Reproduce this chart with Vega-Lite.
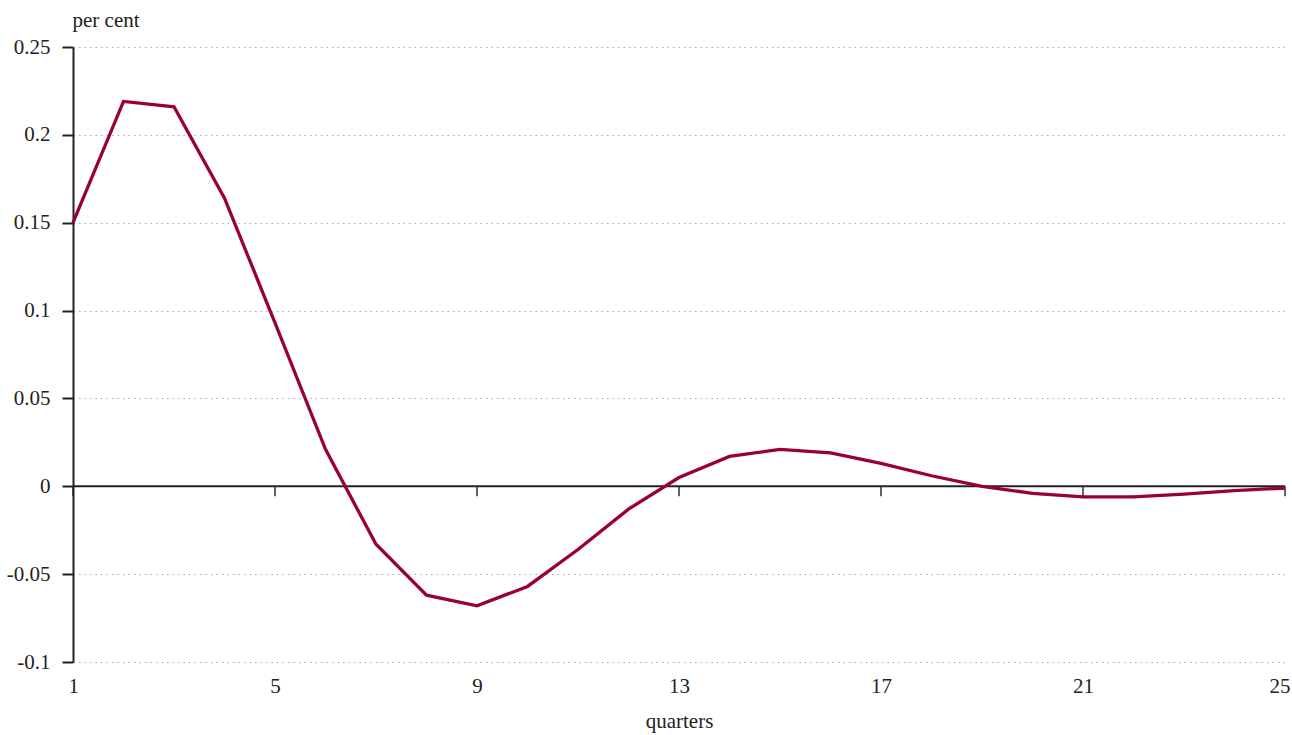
{
  "$schema": "https://vega.github.io/schema/vega-lite/v6.json",
  "width": 1212,
  "height": 615,
  "autosize": {"type": "none"},
  "padding": {"left": 73, "top": 47, "right": 7, "bottom": 73},
  "background": "white",
  "config": {
    "view": {"stroke": null},
    "font": "Liberation Serif",
    "axis": {"labelFont": "Liberation Serif", "titleFont": "Liberation Serif", "labelColor": "#222", "titleColor": "#222", "titleFontWeight": "normal"}
  },
  "layer": [
    {
      "data": {"values": [{"z": 0}]},
      "mark": {"type": "rule", "color": "#222", "strokeWidth": 2},
      "encoding": {"y": {"field": "z", "type": "quantitative", "scale": {"domain": [-0.1, 0.25], "nice": false}}}
    },
    {
      "data": {"values": [{"q": 1, "z": 0}, {"q": 5, "z": 0}, {"q": 9, "z": 0}, {"q": 13, "z": 0}, {"q": 17, "z": 0}, {"q": 21, "z": 0}, {"q": 25, "z": 0}]},
      "mark": {"type": "tick", "orient": "vertical", "size": 10, "thickness": 2, "yOffset": 5, "color": "#222"},
      "encoding": {
        "x": {"field": "q", "type": "quantitative"},
        "y": {"field": "z", "type": "quantitative"}
      }
    },
    {
      "data": {"values": [
        {"q": 1, "v": 0.150}, {"q": 2, "v": 0.219}, {"q": 3, "v": 0.216}, {"q": 4, "v": 0.164},
        {"q": 5, "v": 0.093}, {"q": 6, "v": 0.021}, {"q": 7, "v": -0.033}, {"q": 8, "v": -0.062},
        {"q": 9, "v": -0.068}, {"q": 10, "v": -0.057}, {"q": 11, "v": -0.036}, {"q": 12, "v": -0.013},
        {"q": 13, "v": 0.005}, {"q": 14, "v": 0.017}, {"q": 15, "v": 0.021}, {"q": 16, "v": 0.019},
        {"q": 17, "v": 0.013}, {"q": 18, "v": 0.006}, {"q": 19, "v": 0.000}, {"q": 20, "v": -0.004},
        {"q": 21, "v": -0.006}, {"q": 22, "v": -0.006}, {"q": 23, "v": -0.0045}, {"q": 24, "v": -0.0025},
        {"q": 25, "v": -0.001}
      ]},
      "mark": {"type": "line", "color": "#990033", "strokeWidth": 3.3},
      "encoding": {
        "x": {
          "field": "q", "type": "quantitative",
          "scale": {"domain": [1, 25], "nice": false, "zero": false},
          "axis": {
            "values": [1, 5, 9, 13, 17, 21, 25],
            "grid": false, "domain": false, "ticks": false,
            "labelFontSize": 21, "labelPadding": 13, "labelFlush": true, "labelFlushOffset": 5,
            "title": "quarters", "titleFontSize": 21, "titlePadding": 14
          }
        },
        "y": {
          "field": "v", "type": "quantitative",
          "scale": {"domain": [-0.1, 0.25], "nice": false, "zero": false},
          "axis": {
            "values": [-0.1, -0.05, 0, 0.05, 0.1, 0.15, 0.2, 0.25],
            "labelExpr": "'' + datum.value",
            "grid": true, "gridColor": "#aaaaaa", "gridDash": [1.5, 4], "gridWidth": 1.2,
            "domain": true, "domainColor": "#222", "domainWidth": 2,
            "ticks": true, "tickColor": "#222", "tickWidth": 2, "tickSize": 11,
            "labelFontSize": 21, "labelPadding": 12,
            "title": "per cent", "titleFontSize": 21, "titleAngle": 0, "titleAlign": "left",
            "titleBaseline": "alphabetic", "titleX": -1, "titleY": -21
          }
        }
      }
    }
  ]
}
